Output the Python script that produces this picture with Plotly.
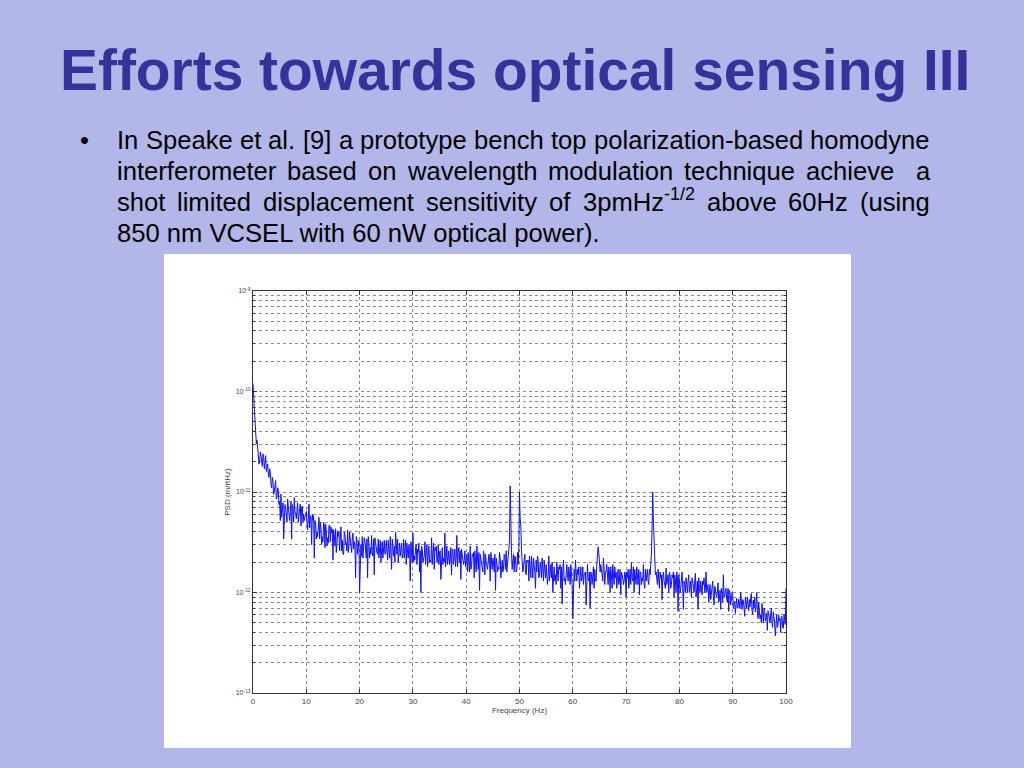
import plotly.graph_objects as go

# ---------------- data ----------------
FREQ_STEP_HZ = 0.25
MAIN_START_HZ = 0.0     # samples at 0, 0.25, 0.5, ... 100 Hz
MID_START_HZ = 0.125    # samples at 0.125, 0.375, ... 99.875 Hz

# PSD values in pm/sqrt(Hz) (1 pm = 1e-12 m)
psd_pm_main_0_25 = [
    120, 58, 40, 33, 24, 21, 23, 18, 22, 20, 16, 19, 14, 15.5, 11, 12.5, 10, 13, 9, 10.5,
    8, 9.5, 6.5, 3.4, 7.5, 5.5, 8.5, 6, 7.8, 3.4, 7, 8.8, 6.2, 7.4, 5, 6.8, 4.6, 7.2, 6, 5.6,
    6.4, 4.2, 7.6, 5.8, 3, 5.2, 2.2, 4.8, 4, 5.4, 3.4, 4.4, 3.6, 5, 2.8, 4.1, 3.5, 4.6, 3.2, 3.9,
    2.1, 3.7, 4.3, 3, 3.6, 2.6, 4.5, 3.3, 2.4, 3.8, 3.1, 4.2, 2.9, 3.5, 2.5, 3.9, 3.2, 1.4, 3.4, 2.7,
    1.0, 3.0, 3.6, 2.6, 3.3, 2.2, 1.4, 3.1, 2.8, 3.7, 2.3, 1.5, 3.0, 2.5, 3.4, 2.9, 2.0, 3.2, 2.6, 2.4,
]
psd_pm_main_25_50 = [
    3.3, 2.1, 2.7, 3.6, 1.7, 2.5, 2.9, 4.0, 2.4, 2.0, 3.1, 2.6, 2.2, 3.4, 2.8, 1.9, 2.5, 3.0, 1.3, 2.6,
    3.9, 2.3, 2.8, 1.9, 2.5, 1.6, 1.0, 2.7, 2.2, 3.2, 2.4, 1.8, 2.9, 2.1, 3.5, 2.3, 1.7, 2.6, 2.0, 3.0,
    2.5, 1.35, 2.8, 2.2, 3.9, 2.4, 1.9, 2.6, 2.1, 1.5, 2.7, 2.3, 1.8, 3.7, 2.5, 2.0, 1.35, 2.4, 1.9, 2.6,
    2.2, 1.6, 2.0, 2.9, 1.8, 2.3, 1.4, 2.1, 2.9, 1.7, 1.05, 2.2, 1.9, 2.6, 1.5, 2.0, 1.7, 2.4, 1.3, 1.9,
    2.2, 1.6, 1.05, 2.0, 1.8, 2.5, 1.4, 2.1, 1.7, 2.3, 2.6, 1.9, 2.4, 11.5, 2.5, 2.0, 1.6, 2.2, 1.7, 1.9,
]
psd_pm_main_50_75 = [
    10, 4.5, 2.2, 1.8, 2.4, 1.5, 2.0, 1.3, 1.7, 2.3, 1.4, 1.9, 1.1, 1.6, 2.1, 1.5, 1.8, 2.2, 1.3, 1.7,
    1.9, 1.2, 2.3, 1.6, 1.4, 1.0, 1.8, 1.5, 2.0, 1.3, 1.7, 1.1, 0.77, 2.1, 1.4, 1.6, 1.5, 1.8, 1.2, 1.6,
    0.55, 1.7, 2.1, 1.3, 1.5, 1.1, 1.8, 1.4, 1.2, 1.6, 0.75, 1.9, 1.3, 0.7, 1.5, 1.7, 1.1, 1.3, 1.9, 2.85,
    2.0, 1.9, 1.5, 2.2, 1.2, 1.6, 1.3, 1.8, 1.0, 1.5, 1.9, 1.2, 1.4, 1.1, 1.7, 1.3, 0.95, 1.5, 1.2, 1.6,
    0.9, 1.4, 1.1, 1.7, 2.0, 1.3, 1.0, 1.5, 1.8, 1.2, 0.95, 1.6, 1.4, 1.9, 1.1, 1.3, 1.7, 1.2, 1.5, 2.4,
]
psd_pm_main_75_100 = [
    10, 3.2, 1.5, 1.3, 1.7, 1.1, 1.4, 0.85, 1.6, 1.2, 1.75, 1.3, 1.0, 1.5, 1.2, 1.4, 0.9, 1.3, 1.6, 0.65,
    1.3, 1.1, 1.6, 0.68, 1.2, 1.4, 1.0, 1.5, 1.1, 0.9, 1.3, 1.0, 1.55, 1.2, 0.68, 1.1, 1.3, 0.95, 1.2, 1.0,
    1.6, 1.1, 0.8, 1.2, 0.95, 1.3, 0.75, 1.1, 0.9, 1.25, 0.85, 0.68, 1.0, 1.5, 0.9, 1.1, 0.8, 0.65, 1.0, 0.85,
    0.95, 0.75, 0.62, 0.88, 0.7, 0.8, 1.0, 0.68, 0.82, 0.58, 0.76, 0.9, 0.66, 0.72, 0.98, 0.6, 0.7, 0.64, 1.0, 0.55,
    0.68, 0.6, 0.78, 0.5, 0.66, 0.58, 0.42, 0.62, 0.5, 0.7, 0.45, 0.56, 0.37, 0.6, 0.48, 0.52, 0.4, 0.58, 0.44, 0.5,
    1.1,
]
psd_pm_mid_0_25 = [
    90, 44, 30, 26, 19, 25, 20, 24, 17, 23, 18, 15, 17, 12, 14, 9.5, 11.5, 8.5, 11, 7.5,
    5.2, 5.6, 7.8, 6.0, 7.0, 5.0, 6.0, 5.2, 8.0, 7.5, 5.0, 6.2, 5.4, 7.8, 6.8, 7.6, 7.0, 5.0, 5.2, 6.2,
    5.0, 5.5, 4.4, 5.6, 6.0, 5.8, 5.2, 3.4, 3.6, 5.6, 5.0, 3.0, 3.2, 4.6, 4.8, 2.9, 3.1, 4.7, 4.5, 4.3,
    4.2, 2.9, 2.5, 4.1, 4.0, 3.3, 2.6, 2.4, 4.0, 3.0, 2.6, 2.5, 4.0, 2.8, 3.4, 2.7, 2.9, 3.6, 2.4, 3.3,
    2.6, 2.3, 2.2, 3.5, 2.6, 3.4, 3.6, 2.2, 2.4, 2.5, 3.4, 3.5, 2.6, 2.4, 2.2, 3.3, 3.0, 2.2, 3.3, 2.5,
]
psd_pm_mid_25_50 = [
    2.8, 3.3, 2.2, 2.6, 3.4, 2.3, 2.0, 2.8, 3.4, 2.5, 2.3, 3.1, 2.4, 2.2, 3.3, 3.1, 2.2, 2.8, 3.2, 2.0,
    2.0, 2.1, 3.0, 2.7, 3.1, 2.6, 2.9, 2.0, 2.3, 1.9, 3.0, 2.2, 2.0, 2.0, 1.9, 3.1, 2.8, 2.9, 2.0, 1.9,
    2.6, 2.8, 1.9, 2.0, 1.8, 2.9, 2.3, 1.9, 2.8, 2.6, 1.9, 2.7, 2.2, 1.8, 2.8, 2.6, 2.7, 2.0, 2.1, 1.8,
    2.4, 2.5, 1.6, 1.7, 2.4, 2.5, 2.6, 1.6, 1.8, 2.5, 2.4, 1.9, 1.6, 2.3, 2.4, 1.7, 2.0, 2.2, 2.5, 1.7,
    2.0, 2.4, 2.2, 1.6, 1.7, 2.2, 1.8, 1.6, 2.4, 1.7, 1.6, 2.1, 3.2, 3.6, 1.7, 2.4, 2.3, 1.6, 2.5, 2.8,
]
psd_pm_mid_50_75 = [
    5.5, 2.6, 1.6, 2.2, 1.6, 2.1, 2.1, 2.3, 1.4, 1.5, 2.2, 1.6, 2.1, 2.3, 1.4, 2.0, 1.4, 1.5, 2.1, 1.4,
    1.6, 1.5, 1.3, 1.9, 2.0, 1.7, 1.3, 1.2, 1.6, 1.8, 1.9, 1.8, 1.6, 1.3, 1.2, 1.9, 1.3, 1.4, 1.9, 1.2,
    1.4, 1.3, 1.6, 1.7, 1.8, 1.4, 1.3, 1.8, 1.5, 1.6, 1.5, 1.4, 1.6, 1.6, 1.2, 1.8, 1.7, 1.3, 2.3, 2.5,
    1.6, 1.5, 1.3, 1.7, 1.6, 1.9, 1.2, 1.6, 1.8, 1.1, 1.3, 1.8, 1.6, 1.4, 1.2, 1.7, 1.6, 1.4, 1.3, 1.5,
    1.6, 1.7, 1.5, 1.2, 1.4, 1.8, 1.7, 1.2, 1.3, 1.7, 1.6, 1.2, 1.3, 1.2, 1.7, 1.5, 1.3, 1.7, 1.9, 4.5,
]
psd_pm_mid_75_100 = [
    5.0, 2.0, 1.6, 1.2, 1.4, 1.6, 1.5, 1.4, 1.3, 1.1, 1.2, 1.5, 1.6, 1.1, 1.5, 1.6, 1.5, 1.0, 1.4, 1.5,
    1.0, 1.3, 1.1, 1.3, 1.0, 1.2, 1.3, 1.0, 1.3, 1.4, 1.1, 1.3, 0.9, 1.3, 1.4, 1.0, 1.1, 1.3, 1.4, 1.1,
    1.0, 1.2, 0.95, 0.85, 1.1, 0.9, 1.15, 0.95, 1.0, 0.8, 1.05, 1.1, 0.8, 0.9, 1.05, 0.85, 1.1, 1.05, 0.75, 1.0,
    0.7, 0.82, 0.8, 0.7, 0.86, 0.7, 0.72, 0.85, 0.7, 0.9, 0.7, 0.66, 0.85, 0.88, 0.66, 0.84, 0.9, 0.72, 0.66, 0.8,
    0.55, 0.5, 0.56, 0.7, 0.52, 0.62, 0.66, 0.5, 0.6, 0.5, 0.64, 0.5, 0.58, 0.45, 0.6, 0.55, 0.58, 0.45, 0.6, 0.48,
]

x_tick_vals = [0, 10, 20, 30, 40, 50, 60, 70, 80, 90, 100]
y_tick_vals = [1e-13, 1e-12, 1e-11, 1e-10, 1e-9]
y_tick_text = ["10<sup>-13</sup>", "10<sup>-12</sup>", "10<sup>-11</sup>",
               "10<sup>-10</sup>", "10<sup>-9</sup>"]
x_label = "Frequency (Hz)"
y_label = "PSD (m/rtHz)"

title_text = "Efforts towards optical sensing III"
bullet_lines = [
    ["In", "Speake", "et", "al.", "[9]", "a", "prototype", "bench", "top",
     "polarization-based", "homodyne"],
    ["interferometer", "based", "on", "wavelength", "modulation", "technique",
     "achieve", "", "a"],
    ["shot", "limited", "displacement", "sensitivity", "of", "3pmHz^-1/2",
     "above", "60Hz", "(using"],
]
last_line = "850 nm VCSEL with 60 nW optical power)."

# ---------------- assemble ----------------
main_pm = psd_pm_main_0_25 + psd_pm_main_25_50 + psd_pm_main_50_75 + psd_pm_main_75_100
mid_pm = psd_pm_mid_0_25 + psd_pm_mid_25_50 + psd_pm_mid_50_75 + psd_pm_mid_75_100
samples = [(MAIN_START_HZ + i * FREQ_STEP_HZ, v) for i, v in enumerate(main_pm)]
samples += [(MID_START_HZ + i * FREQ_STEP_HZ, v) for i, v in enumerate(mid_pm)]
samples.sort()
freq_hz = [f for f, _ in samples]
psd = [v * 1e-12 for _, v in samples]

W, H = 1024, 768
L, R, T, B = 253, 786, 291, 693
FONT = "Liberation Sans, Arial, Helvetica, sans-serif"


def px(x):
    return (x - L) / (R - L)


def py(y):
    return (B - y) / (B - T)


# Arial advance widths (per 1000 em)
AW = {
    'a': 556, 'b': 556, 'c': 500, 'd': 556, 'e': 556, 'f': 278, 'g': 556, 'h': 556,
    'i': 222, 'j': 222, 'k': 500, 'l': 222, 'm': 833, 'n': 556, 'o': 556, 'p': 556,
    'q': 556, 'r': 333, 's': 500, 't': 278, 'u': 556, 'v': 500, 'w': 722, 'x': 500,
    'y': 500, 'z': 500, 'A': 667, 'C': 722, 'E': 667, 'H': 722, 'I': 278, 'L': 556,
    'S': 667, 'V': 667, 'W': 944, ' ': 278, '.': 278, ',': 278, '-': 333, '[': 278,
    ']': 278, '(': 333, ')': 333, '/': 278,
}


def text_w(s, size):
    return sum(AW.get(ch, 556) for ch in s) * size / 1000.0


BODY = 25.6
fig = go.Figure()
fig.add_trace(go.Scatter(x=freq_hz, y=psd, mode="lines",
                         line=dict(color="rgb(15,15,255)", width=1.0),
                         hoverinfo="skip"))


def body_ann(text, x, y_base):
    # anchor at the bottom so that superscripts do not move the baseline
    return dict(text=text, x=px(x), y=py(y_base), xref="paper", yref="paper",
                showarrow=False, xanchor="left", yanchor="bottom",
                font=dict(family=FONT, size=BODY, color="black"))


annotations = []
annotations.append(dict(text="<b>" + title_text + "</b>", x=px(515), y=py(70),
                        xref="paper", yref="paper", showarrow=False,
                        xanchor="center", yanchor="middle",
                        font=dict(family=FONT, size=56.9, color="#333399")))

line_bottom = [156, 187, 218, 249]
annotations.append(body_ann("•", 78, line_bottom[0]))
x_left, x_right = 115, 928
for li, words in enumerate(bullet_lines):
    widths = []
    texts = []
    for w in words:
        if "^" in w:
            base, sup = w.split("^")
            widths.append(text_w(base, BODY) + text_w(sup, BODY * 0.7))
            texts.append(base + "<sup>" + sup + "</sup>")
        else:
            widths.append(text_w(w, BODY) if w else 0.0)
            texts.append(w)
    gap = (x_right - x_left - sum(widths)) / (len(words) - 1)
    x = x_left
    for t, wd in zip(texts, widths):
        if t:
            annotations.append(body_ann(t, x, line_bottom[li]))
        x += wd + gap
annotations.append(body_ann(last_line, x_left, line_bottom[3]))

grid = dict(gridcolor="#8a8a8a", griddash="dot", gridwidth=1)

fig.update_layout(
    width=W, height=H,
    margin=dict(l=L, r=W - R, t=T, b=H - B, pad=0),
    paper_bgcolor="#B3B6E8",
    plot_bgcolor="white",
    showlegend=False,
    annotations=annotations,
    shapes=[dict(type="rect", xref="paper", yref="paper",
                 x0=px(164), x1=px(851), y0=py(748), y1=py(254),
                 fillcolor="white", line=dict(width=0), layer="below")],
    xaxis=dict(range=[0, 100], tickvals=x_tick_vals, ticks="inside", ticklen=4,
               tickcolor="#333", showline=True, linecolor="#333", linewidth=1,
               mirror="ticks", zeroline=False, showgrid=True, **grid,
               tickfont=dict(family=FONT, size=8, color="#444"),
               title=dict(text=x_label, standoff=2,
                          font=dict(family=FONT, size=8, color="#444"))),
    yaxis=dict(type="log", range=[-13, -9], tickvals=y_tick_vals,
               ticktext=y_tick_text, ticks="inside", ticklen=4, tickcolor="#333",
               showline=True, linecolor="#333", linewidth=1, mirror="ticks",
               zeroline=False, showgrid=True, **grid,
               minor=dict(dtick="D1", showgrid=True, ticks="inside", ticklen=2,
                          tickcolor="#333", **grid),
               tickfont=dict(family=FONT, size=7, color="#444"),
               title=dict(text=y_label, standoff=3,
                          font=dict(family=FONT, size=8, color="#444"))),
)

fig.write_html("out.html",
               config={"displayModeBar": False},
               post_script="document.body.style.margin='0';"
                           "document.body.style.padding='0';"
                           "document.body.style.overflow='hidden';")
